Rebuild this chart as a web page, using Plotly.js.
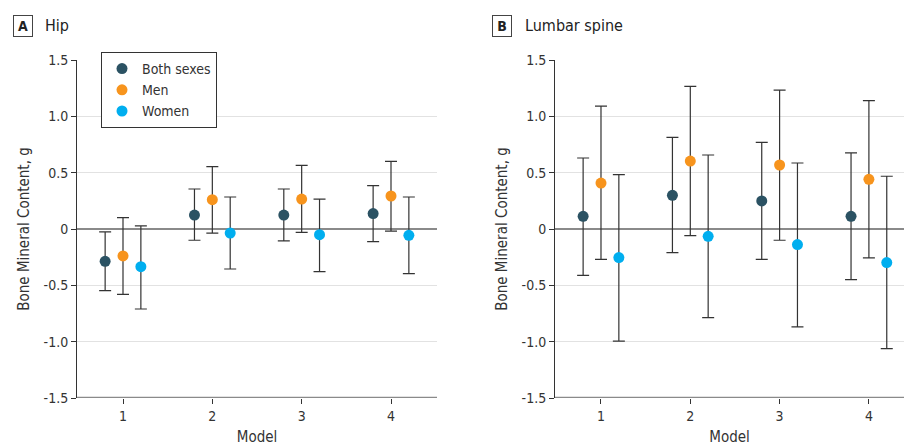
<!DOCTYPE html>
<html><head><meta charset="utf-8">
<script src="https://cdn.plot.ly/plotly-3.0.1.min.js"></script>
<style>html,body{margin:0;padding:0;background:#fff}#chart{width:904px;height:446px}</style>
</head><body><div id="chart"></div>
<script>
// ---- data ----
const models = [1, 2, 3, 4];
const seriesNames = ["Both sexes", "Men", "Women"];
const modelTickText = ["1", "2", "3", "4"];
const yTickVals = [-1.5, -1.0, -0.5, 0, 0.5, 1.0, 1.5];
const yTickText = ["-1.5", "-1.0", "-0.5", "0", "0.5", "1.0", "1.5"];

// Hip
const hipBoth = [-0.287, 0.124, 0.124, 0.137];
const hipBothLo = [-0.547, -0.10, -0.106, -0.112];
const hipBothHi = [-0.026, 0.355, 0.355, 0.385];
const hipMen = [-0.239, 0.26, 0.266, 0.293];
const hipMenLo = [-0.58, -0.036, -0.03, -0.018];
const hipMenHi = [0.101, 0.553, 0.565, 0.60];
const hipWomen = [-0.334, -0.036, -0.05, -0.056];
const hipWomenLo = [-0.71, -0.355, -0.378, -0.396];
const hipWomenHi = [0.027, 0.284, 0.266, 0.284];

// Lumbar spine
const spineBoth = [0.113, 0.299, 0.249, 0.113];
const spineBothLo = [-0.411, -0.209, -0.269, -0.449];
const spineBothHi = [0.63, 0.814, 0.769, 0.675];
const spineMen = [0.408, 0.603, 0.568, 0.441];
const spineMenLo = [-0.269, -0.059, -0.10, -0.257];
const spineMenHi = [1.091, 1.266, 1.233, 1.139];
const spineWomen = [-0.254, -0.065, -0.138, -0.298];
const spineWomenLo = [-0.996, -0.786, -0.869, -1.061];
const spineWomenHi = [0.483, 0.657, 0.586, 0.468];

// ---- style ----
const colors = ["#2b5263", "#f7941d", "#00aeef"];
const offsets = [-0.2, 0, 0.2];
const FONT = "'DejaVu Sans Condensed', 'Liberation Sans Narrow', Roboto, sans-serif";

function mk(name, i, y, lo, hi, xa, ya, showLeg) {
  return {
    type: "scatter", mode: "markers", name: name,
    x: models.map(m => m + offsets[i]), y: y,
    xaxis: xa, yaxis: ya, showlegend: showLeg,
    marker: {color: colors[i], size: 11},
    error_y: {type: "data", symmetric: false,
      array: hi.map((h, k) => h - y[k]),
      arrayminus: lo.map((l, k) => y[k] - l),
      color: "#333", thickness: 1.2, width: 6}
  };
}

const traces = [
  mk(seriesNames[0], 0, hipBoth, hipBothLo, hipBothHi, "x", "y", true),
  mk(seriesNames[1], 1, hipMen, hipMenLo, hipMenHi, "x", "y", true),
  mk(seriesNames[2], 2, hipWomen, hipWomenLo, hipWomenHi, "x", "y", true),
  mk(seriesNames[0], 0, spineBoth, spineBothLo, spineBothHi, "x2", "y2", false),
  mk(seriesNames[1], 1, spineMen, spineMenLo, spineMenHi, "x2", "y2", false),
  mk(seriesNames[2], 2, spineWomen, spineWomenLo, spineWomenHi, "x2", "y2", false)
];

function xax(domain, range) {
  return {domain: domain, range: range, tickvals: models, ticktext: modelTickText,
    showgrid: false, zeroline: false, showline: false,
    ticks: "outside", ticklen: 5, tickcolor: "#333", tickfont: {size: 14, color: "#333"},
    title: {text: "Model", font: {size: 15, color: "#333"}, standoff: 8}, fixedrange: true};
}
function yax(anchor) {
  return {domain: [0, 1], range: [-1.5, 1.5], anchor: anchor,
    tickvals: yTickVals, ticktext: yTickText,
    showgrid: true, gridcolor: "#e2e2e2", gridwidth: 1.5,
    zeroline: true, zerolinecolor: "#8a8a8a", zerolinewidth: 2,
    showline: true, linecolor: "#333", linewidth: 1,
    ticks: "outside", ticklen: 5, tickcolor: "#333", tickfont: {size: 14, color: "#333"},
    title: {text: "Bone Mineral Content, g", font: {size: 15, color: "#333"}, standoff: 10}, fixedrange: true};
}

const layout = {
  width: 904, height: 446,
  margin: {l: 0, r: 0, t: 60, b: 48},
  paper_bgcolor: "#fff", plot_bgcolor: "#fff",
  font: {family: FONT, color: "#333"},
  xaxis: xax([77/904, 437/904], [0.485, 4.515]),
  yaxis: yax("x"),
  xaxis2: Object.assign(xax([555/904, 1], [0.485, 4.393]), {anchor: "y2"}),
  yaxis2: yax("x2"),
  showlegend: true,
  legend: {x: 101/904, y: (398-52)/338, xanchor: "left", yanchor: "top",
    bordercolor: "#333", borderwidth: 1, bgcolor: "#fff",
    font: {size: 14, color: "#333"}, tracegroupgap: 0, itemwidth: 30},
  shapes: [
    {type: "line", xref: "x domain", yref: "y", x0: 0, x1: 1, y0: -1.5, y1: -1.5,
     line: {color: "#8a8a8a", width: 2.5}, layer: "above"},
    {type: "line", xref: "x2 domain", yref: "y2", x0: 0, x1: 1, y0: -1.5, y1: -1.5,
     line: {color: "#8a8a8a", width: 2.5}, layer: "above"}
  ],
  annotations: [
    {xref: "paper", yref: "paper", x: 23/904, y: (398-26)/338, xanchor: "center", yanchor: "middle",
     text: "<b>A</b>", showarrow: false, font: {size: 14, color: "#222"},
     bordercolor: "#444", borderwidth: 1, borderpad: 2, width: 14, height: 16},
    {xref: "paper", yref: "paper", x: 43/904, y: (398-26)/338, xanchor: "left", yanchor: "middle",
     text: "Hip", showarrow: false, font: {size: 16, color: "#222"}},
    {xref: "paper", yref: "paper", x: 502/904, y: (398-26)/338, xanchor: "center", yanchor: "middle",
     text: "<b>B</b>", showarrow: false, font: {size: 14, color: "#222"},
     bordercolor: "#444", borderwidth: 1, borderpad: 2, width: 14, height: 16},
    {xref: "paper", yref: "paper", x: 523/904, y: (398-26)/338, xanchor: "left", yanchor: "middle",
     text: "Lumbar spine", showarrow: false, font: {size: 16, color: "#222"}}
  ]
};

Plotly.newPlot("chart", traces, layout, {displayModeBar: false, staticPlot: true});
</script></body></html>
